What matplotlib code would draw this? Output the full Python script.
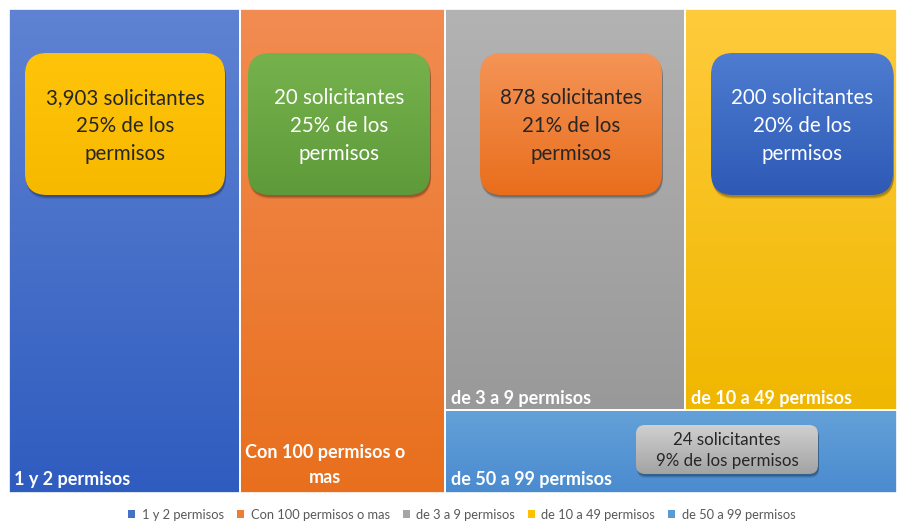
import matplotlib
matplotlib.use("Agg")
import matplotlib.pyplot as plt
import numpy as np
from matplotlib.patches import Rectangle, FancyBboxPatch, Patch
from matplotlib.colors import LinearSegmentedColormap, to_rgb

plt.rcParams['font.family'] = ['Lato', 'DejaVu Sans']

# ---------------- data ----------------
categories = ["1 y 2 permisos", "Con 100 permisos o mas", "de 3 a 9 permisos",
              "de 10 a 49 permisos", "de 50 a 99 permisos"]
tile_labels = ["1 y 2 permisos", "Con 100 permisos o\nmas", "de 3 a 9 permisos",
               "de 10 a 49 permisos", "de 50 a 99 permisos"]
values = [26.0, 23.1, 22.4, 19.8, 8.7]          # relative area of each tile
solicitantes = ["3,903", "20", "878", "200", "24"]
pct_permisos = [25, 25, 21, 20, 9]

tile_top = ["#5f83d2", "#f28c52", "#b3b3b3", "#ffcb3c", "#64a1d8"]
tile_bot = ["#2f5cbf", "#e86f1d", "#999999", "#f0b700", "#4a8bd0"]
legend_colors = ["#4472c4", "#ed7d31", "#a5a5a5", "#ffc000", "#5b9bd5"]

# ---------------- figure ----------------
W_PX, H_PX = 897, 521
fig = plt.figure(figsize=(W_PX / 100, H_PX / 100), dpi=100)
AX_W, AX_H = 888, 484
ax = fig.add_axes([9 / W_PX, 28 / H_PX, AX_W / W_PX, AX_H / H_PX])
ax.set_xlim(0, AX_W)
ax.set_ylim(AX_H, 0)
ax.axis("off")


def layout(vals, W, H):
    """Excel-like treemap: first two values as full-height columns,
    the rest: two side by side on top, the last one as a bottom strip."""
    tot = sum(vals)
    rects = []
    x = 0.0
    for v in vals[:2]:
        w = W * v / tot
        rects.append((x, 0.0, w, H))
        x += w
    rw = W - x
    rest = sum(vals[2:])
    top_h = H * (vals[2] + vals[3]) / rest
    w3 = rw * vals[2] / (vals[2] + vals[3])
    rects.append((x, 0.0, w3, top_h))
    rects.append((x + w3, 0.0, rw - w3, top_h))
    rects.append((x, top_h, rw, H - top_h))
    return rects


def gradient_fill(ax, patch, c_top, c_bot, extent, z):
    cmap = LinearSegmentedColormap.from_list("g", [to_rgb(c_top), to_rgb(c_bot)])
    grad = np.linspace(0, 1, 256).reshape(-1, 1)
    im = ax.imshow(grad, cmap=cmap, extent=extent, aspect="auto",
                   origin="upper", zorder=z, interpolation="bicubic")
    im.set_clip_path(patch)


rects = layout(values, AX_W, AX_H)
for (x, y, w, h), ct, cb in zip(rects, tile_top, tile_bot):
    r = Rectangle((x, y), w, h, facecolor="none", edgecolor="none", zorder=1)
    ax.add_patch(r)
    gradient_fill(ax, r, ct, cb, (x, x + w, y + h, y), 1)
    ax.add_patch(Rectangle((x, y), w, h, facecolor="none", edgecolor="white",
                           linewidth=1.2, zorder=2))

# tile labels
lab_kw = dict(color="white", fontsize=13, fontweight="bold", zorder=6)
(x0, y0, w0, h0) = rects[0]
ax.text(x0 + 5, y0 + h0 - 14, tile_labels[0], ha="left", va="center", **lab_kw)
(x1, y1, w1, h1) = rects[1]
ax.text(x1 + w1 / 2 - 17, y1 + h1 - 28, tile_labels[1], ha="center", va="center",
        linespacing=1.55, **lab_kw)
(x2, y2, w2, h2) = rects[2]
ax.text(x2 + 6, y2 + h2 - 12, tile_labels[2], ha="left", va="center", **lab_kw)
(x3, y3, w3, h3) = rects[3]
ax.text(x3 + 6, y3 + h3 - 12, tile_labels[3], ha="left", va="center", **lab_kw)
(x4, y4, w4, h4) = rects[4]
ax.text(x4 + 6, y4 + h4 - 14, tile_labels[4], ha="left", va="center", **lab_kw)

# callout boxes (pixel positions inside the axes)
boxes = [  # x, y, w, h, top colour, bottom colour, text colour
    (16, 44, 200, 142, "#ffc409", "#f7b900", "#262626"),
    (239, 44, 182, 142, "#76b24c", "#5e9a39", "white"),
    (471, 44, 182, 142, "#f49457", "#e96e1c", "#262626"),
    (702, 44, 182, 142, "#4d7cd0", "#2e5ab6", "white"),
    (627, 416, 182, 49, "#d0d0d0", "#a3a3a3", "#262626"),
]
texts = [
    f"{solicitantes[0]} solicitantes\n{pct_permisos[0]}% de los\npermisos",
    f"{solicitantes[1]} solicitantes\n{pct_permisos[1]}% de los\npermisos",
    f"{solicitantes[2]} solicitantes\n{pct_permisos[2]}% de los\npermisos",
    f"{solicitantes[3]} solicitantes\n{pct_permisos[3]}% de los\npermisos",
    f"{solicitantes[4]} solicitantes\n{pct_permisos[4]}% de los permisos",
]
for i, ((bx, by, bw, bh, ct, cb, tc), t) in enumerate(zip(boxes, texts)):
    rad = 22 if bh > 100 else 9
    for k, a in zip([4, 3, 2], [0.08, 0.12, 0.16]):
        sh = FancyBboxPatch((bx + rad + 1, by + rad + k), bw - 2 * rad, bh - 2 * rad,
                            boxstyle=f"round,pad={rad}", facecolor="black",
                            edgecolor="none", alpha=a, zorder=3)
        ax.add_patch(sh)
    p = FancyBboxPatch((bx + rad, by + rad), bw - 2 * rad, bh - 2 * rad,
                       boxstyle=f"round,pad={rad}", facecolor="none",
                       edgecolor="none", zorder=4)
    ax.add_patch(p)
    gradient_fill(ax, p, ct, cb, (bx, bx + bw, by + bh, by), 4)
    if i < 4:
        ax.text(bx + bw / 2, by + 73, t, ha="center", va="center",
                fontsize=14.8, color=tc, linespacing=1.5, zorder=7)
    else:
        ax.text(bx + bw / 2, by + bh / 2 + 1, t, ha="center", va="center",
                fontsize=12.2, color=tc, linespacing=1.45, zorder=7)

# legend
handles = [Patch(facecolor=c, edgecolor="none") for c in legend_colors]
leg = fig.legend(handles, categories, loc="lower center", ncol=5,
                 bbox_to_anchor=(0.515, -0.022), frameon=False, fontsize=9.3,
                 handlelength=0.55, handleheight=0.55, handletextpad=0.5,
                 columnspacing=1.0, labelcolor="#595959")

fig.savefig("out.png", dpi=100, facecolor="white")
